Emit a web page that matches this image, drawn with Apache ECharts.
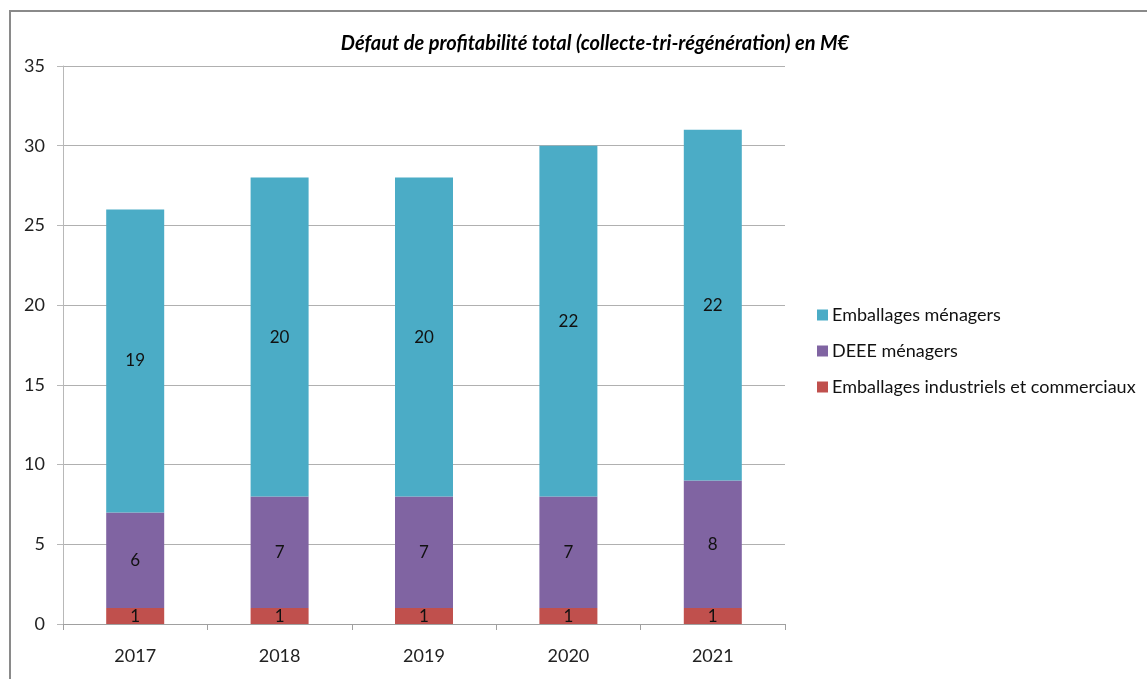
<!DOCTYPE html>
<html>
<head>
<meta charset="utf-8">
<script src="https://cdn.jsdelivr.net/npm/echarts@6/dist/echarts.min.js"></script>
<style>html,body{margin:0;padding:0;background:#fff}#c{width:1147px;height:679px}</style>
</head>
<body>
<div id="c"></div>
<script>
var categories = ['2017', '2018', '2019', '2020', '2021'];
var industriels = [1, 1, 1, 1, 1];
var deee = [6, 7, 7, 7, 8];
var menagers = [19, 20, 20, 22, 22];
var seriesNames = ['Emballages industriels et commerciaux', 'DEEE ménagers', 'Emballages ménagers'];
var titleText = 'Défaut de profitabilité total (collecte-tri-régénération) en M€';

var chart = echarts.init(document.getElementById('c'));
var font = 'Lato, "Open Sans", sans-serif';
var lbl = {show: true, position: 'inside', color: '#111', fontSize: 17, fontFamily: font};
function mk(name, data, color) {
  return {name: name, type: 'bar', stack: 't', data: data, barWidth: 58,
    itemStyle: {color: color}, label: lbl, emphasis: {disabled: true}};
}
chart.setOption({
  animation: false,
  title: {text: titleText, left: 590, textAlign: 'center', top: 29,
    textStyle: {fontFamily: font, fontStyle: 'italic', fontWeight: 'bold', fontSize: 20, color: '#000'}},
  graphic: [{type: 'rect', shape: {x: 10, y: 11, width: 1200, height: 700},
    style: {fill: 'none', stroke: '#8a8a8a', lineWidth: 2}, silent: true}],
  legend: {orient: 'vertical', left: 817, top: 306, padding: 0, itemGap: 18, itemWidth: 11, itemHeight: 11,
    icon: 'rect', data: [seriesNames[2], seriesNames[1], seriesNames[0]],
    textStyle: {fontFamily: font, fontSize: 18, lineHeight: 18, color: '#111', padding: [0, 0, 0, -1]}},
  grid: {left: 63, right: 362, top: 66, bottom: 55},
  xAxis: {type: 'category', data: categories,
    axisLine: {lineStyle: {color: '#a0a0a0', width: 1}},
    axisTick: {show: true, length: 6, lineStyle: {color: '#a0a0a0'}},
    axisLabel: {fontFamily: font, fontSize: 18, color: '#222', margin: 23}},
  yAxis: {type: 'value', min: 0, max: 35, interval: 5,
    axisLine: {show: true, lineStyle: {color: '#b8b8b8'}},
    axisTick: {show: true, length: 6, lineStyle: {color: '#b8b8b8'}},
    splitLine: {lineStyle: {color: '#b0b0b0'}},
    axisLabel: {fontFamily: font, fontSize: 18, color: '#222', margin: 18}},
  series: [mk(seriesNames[0], industriels, '#C0504D'), mk(seriesNames[1], deee, '#8064A2'), mk(seriesNames[2], menagers, '#4BACC6')]
});
</script>
</body>
</html>
